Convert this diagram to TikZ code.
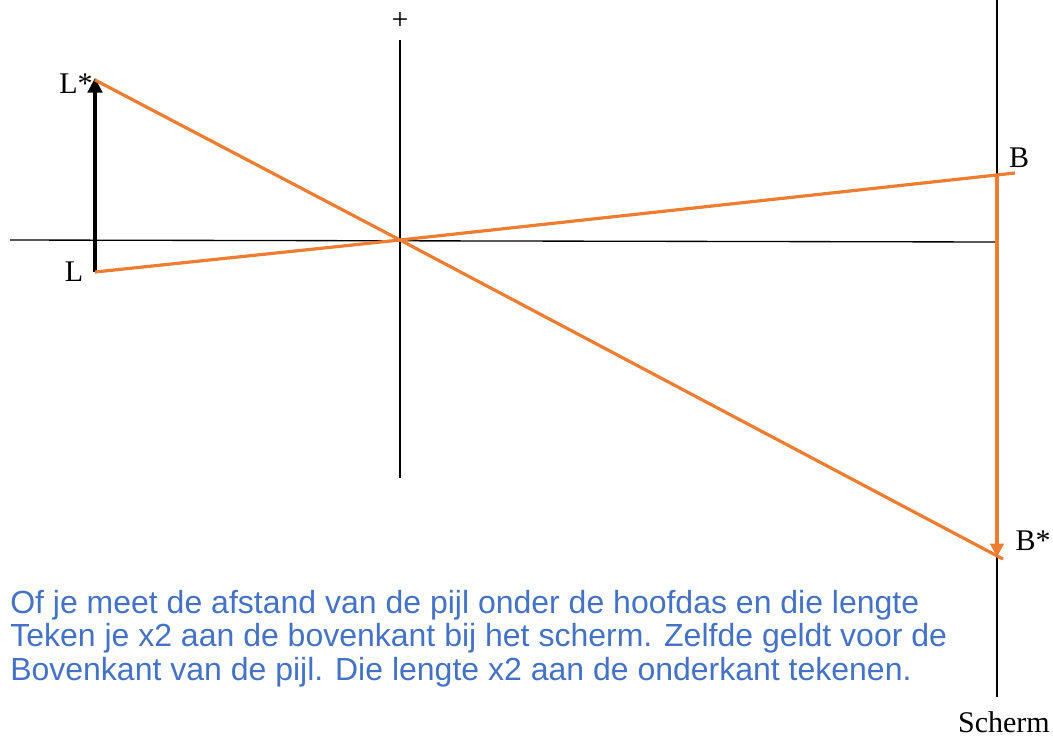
\documentclass[tikz,border=0pt]{standalone}
\usepackage{fontspec}
\setmainfont{Liberation Serif}
\newfontfamily\arialfont{Liberation Sans}
\usetikzlibrary{arrows.meta}
\definecolor{orng}{HTML}{ED7D31}
\definecolor{bluetxt}{HTML}{4472C4}
\tikzset{
  thinline/.style={black, line width=1pt},
  ray/.style={orng, line width=2.4pt},
  lbl/.style={font=\fontsize{22.5}{24}\selectfont, inner sep=0pt},
  note/.style={font=\arialfont\fontsize{24}{28}\selectfont, text=bluetxt, inner sep=0pt, anchor=west}
}
\begin{document}
\begin{tikzpicture}[x=0.75pt,y=-0.75pt]
\useasboundingbox (0,0) rectangle (1053,739);
% axes and lens
\coordinate (axL) at (10,240);
\coordinate (axR) at (997,242);
\draw[thinline] (axL) -- (axR);
\coordinate (lensT) at (400,40);
\coordinate (lensB) at (400,478);
\draw[thinline] (lensT) -- (lensB);
\node[lbl] (plus) at (400,21) {+};
% screen
\coordinate (scrT) at (997,0);
\coordinate (scrB) at (997,697);
\draw[thinline] (scrT) -- (scrB);
\node[lbl, anchor=east] (scherm) at (1050,722) {Scherm};
% object
\coordinate (L) at (95,272);
\coordinate (Ls) at (95,78);
\draw[black, line width=2.3pt, -{Triangle[length=11pt,width=11pt]}] (L) -- (Ls);
\node[lbl] (Llbl) at (74,272) {L};
\node[lbl] (Lslbl) at (76,84) {L*};
% rays
\coordinate (O) at (400,240);
\coordinate (Bs) at (1003,559);
\coordinate (B) at (1015,173);
\coordinate (Bstart) at (997,175);
\coordinate (Bsend) at (997,557);
\draw[ray] (95,80) -- (O) -- (Bs);
\draw[ray] (L) -- (O) -- (B);
\draw[ray, -{Triangle[length=10pt,width=10pt]}] (Bstart) -- (Bsend);
\node[lbl] (Blbl) at (1019,158) {B};
\node[lbl] (Bslbl) at (1033,541) {B*};
% note
\node[note] (n1) at (10,605) {Of je meet de afstand van de pijl onder de hoofdas en die lengte};
\node[note] (n2) at (10,638) {Teken je x2 aan de bovenkant bij het scherm. Zelfde geldt voor de};
\node[note] (n3) at (10,672) {Bovenkant van de pijl. Die lengte x2 aan de onderkant tekenen.};
\end{tikzpicture}
\end{document}
